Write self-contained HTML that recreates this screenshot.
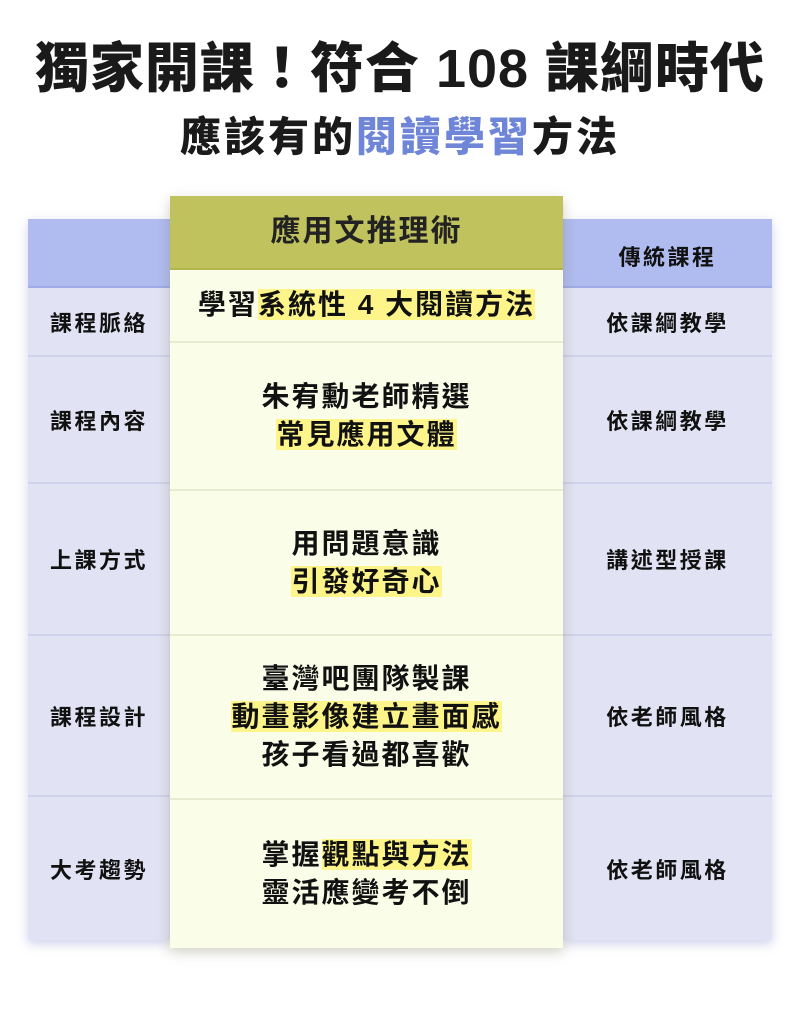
<!DOCTYPE html>
<html><head><meta charset="utf-8"><style>
*{margin:0;padding:0;box-sizing:border-box}
body{width:800px;height:1012px;background:#fff;position:relative;overflow:hidden;font-family:"Liberation Sans","Noto Sans CJK TC",sans-serif;font-weight:bold;color:#111}
.abs{position:absolute}
.t1{left:0;width:800px;top:34px;text-align:center;font-size:54px;font-weight:900;letter-spacing:1px;line-height:70px;color:#1a1a1a}
.t2{left:0;width:800px;top:110px;text-align:center;font-size:41px;font-weight:900;letter-spacing:3px;line-height:54px;color:#1a1a1a}
.blue{color:#6f86d8}
.side{box-shadow:0 4px 10px rgba(120,125,200,0.35)}
.cell{position:absolute;display:flex;align-items:center;justify-content:center;text-align:center;font-size:22px;letter-spacing:2.5px;background:#e1e3f4;border-bottom:2px solid #d0d2ec}
.hd{background:#b0bcf0;border-bottom:2px solid #9fabe6}
.c{position:absolute;left:170px;width:393px;display:flex;flex-direction:column;align-items:center;justify-content:center;text-align:center;font-size:28px;letter-spacing:2px;line-height:38px;background:#fafde8;border-bottom:2px solid #e8ebcf}
.hl{background:#fdf58a}
</style></head><body>
<div class="abs t1">獨家開課！符合 108 課綱時代</div>
<div class="abs t2">應該有的<span class="blue">閱讀學習</span>方法</div>

<div class="abs side" style="left:28px;top:219px;width:142px;height:721px"></div>
<div class="abs side" style="left:563px;top:219px;width:209px;height:721px"></div>
<div class="cell hd" style="left:28px;top:219px;width:142px;height:69px"></div>
<div class="cell" style="left:28px;top:288px;width:142px;height:69px">課程脈絡</div>
<div class="cell" style="left:28px;top:357px;width:142px;height:127px">課程內容</div>
<div class="cell" style="left:28px;top:484px;width:142px;height:152px">上課方式</div>
<div class="cell" style="left:28px;top:636px;width:142px;height:161px">課程設計</div>
<div class="cell" style="left:28px;top:797px;width:142px;height:143px;border-bottom:none">大考趨勢</div>

<div class="cell hd" style="left:563px;top:219px;width:209px;height:69px;padding-top:6px">傳統課程</div>
<div class="cell" style="left:563px;top:288px;width:209px;height:69px">依課綱教學</div>
<div class="cell" style="left:563px;top:357px;width:209px;height:127px">依課綱教學</div>
<div class="cell" style="left:563px;top:484px;width:209px;height:152px">講述型授課</div>
<div class="cell" style="left:563px;top:636px;width:209px;height:161px">依老師風格</div>
<div class="cell" style="left:563px;top:797px;width:209px;height:143px;border-bottom:none">依老師風格</div>

<div class="abs" style="left:170px;top:196px;width:393px;height:752px;box-shadow:0 4px 12px rgba(100,100,60,0.3)"></div>
<div class="c" style="top:196px;height:74px;background:#c0c25e;border-bottom:2px solid #b2b450;font-size:30px;color:#222">應用文推理術</div>
<div class="c" style="top:270px;height:73px;padding-bottom:2px"><div>學習<span class="hl">系統性 4 大閱讀方法</span></div></div>
<div class="c" style="top:343px;height:148px"><div>朱宥勳老師精選</div><div><span class="hl">常見應用文體</span></div></div>
<div class="c" style="top:491px;height:145px"><div>用問題意識</div><div><span class="hl">引發好奇心</span></div></div>
<div class="c" style="top:636px;height:164px"><div>臺灣吧團隊製課</div><div><span class="hl">動畫影像建立畫面感</span></div><div>孩子看過都喜歡</div></div>
<div class="c" style="top:800px;height:148px;border-bottom:none"><div>掌握<span class="hl">觀點與方法</span></div><div>靈活應變考不倒</div></div>
</body></html>
